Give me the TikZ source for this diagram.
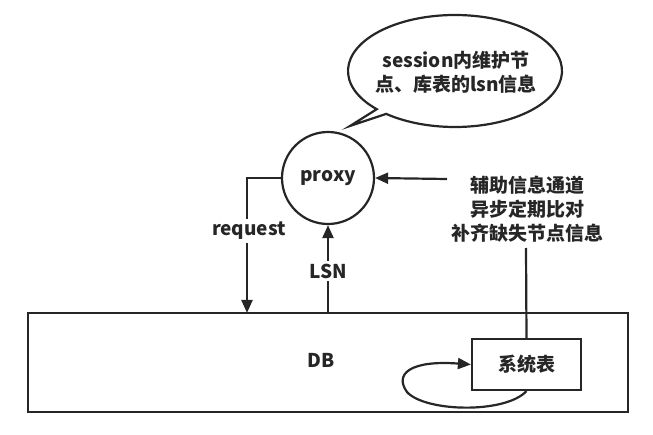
\documentclass[tikz,border=0pt]{standalone}
\usepackage{fontspec}
\setmainfont{Noto Sans CJK SC}
\usetikzlibrary{arrows.meta,calc}
\begin{document}
\begin{tikzpicture}[x=1pt,y=-1pt,
  every node/.style={font=\fontsize{19}{24}\selectfont\bfseries, text=black!85},
  ln/.style={line width=2.2pt, draw=black!85},
  arr/.style={ln, -{Triangle[length=13pt,width=11pt]}},
  lbl/.style={fill=white, inner sep=3pt}]
\useasboundingbox (0,0) rectangle (653,435);
% speech bubble
\coordinate (bubc) at (455,71);
\draw[ln] ($(bubc)+(137:107 and 56)$) arc[start angle=137, end angle=490, x radius=107, y radius=56] -- (350,126) -- cycle;
\node[align=center] (bubtxt) at (456,72) {session内维护节\\点、库表的lsn信息};
% proxy
\node[draw, ln, circle, minimum size=92pt, inner sep=0pt] (proxy) at (328,178) {proxy};
% DB
\node[draw, ln, rectangle, minimum width=600pt, minimum height=99pt, inner sep=0pt] (db) at (327.7,362.2) {};
\node (dblbl) at (321,360) {DB};
% system table
\node[draw, ln, rectangle, minimum width=109pt, minimum height=51pt, inner sep=0pt] (sys) at (526.5,364.5) {系统表};
% aux text
\node[align=center] (aux) at (527,209) {辅助信息通道\\异步定期比对\\补齐缺失节点信息};
% request
\coordinate (rq) at (247,313);
\draw[arr] (proxy.west) -| (rq);
\node[lbl] (reqlbl) at (249,231) {request};
% LSN
\draw[arr] (db.north -| proxy.south) -- (proxy.south);
\node[lbl] (lsnlbl) at (328,271) {LSN};
% aux arrow
\coordinate (auxin) at (447,179);
\draw[arr] (auxin) -- (proxy.east);
\coordinate (auxbot) at (526,248);
\draw[ln] (auxbot) -- (sys.north);
% loop
\draw[arr] (sys.south) .. controls (505,414) and (425,412) .. (407,392) .. controls (394,374) and (410,360) .. (sys.west);
\end{tikzpicture}
\end{document}
